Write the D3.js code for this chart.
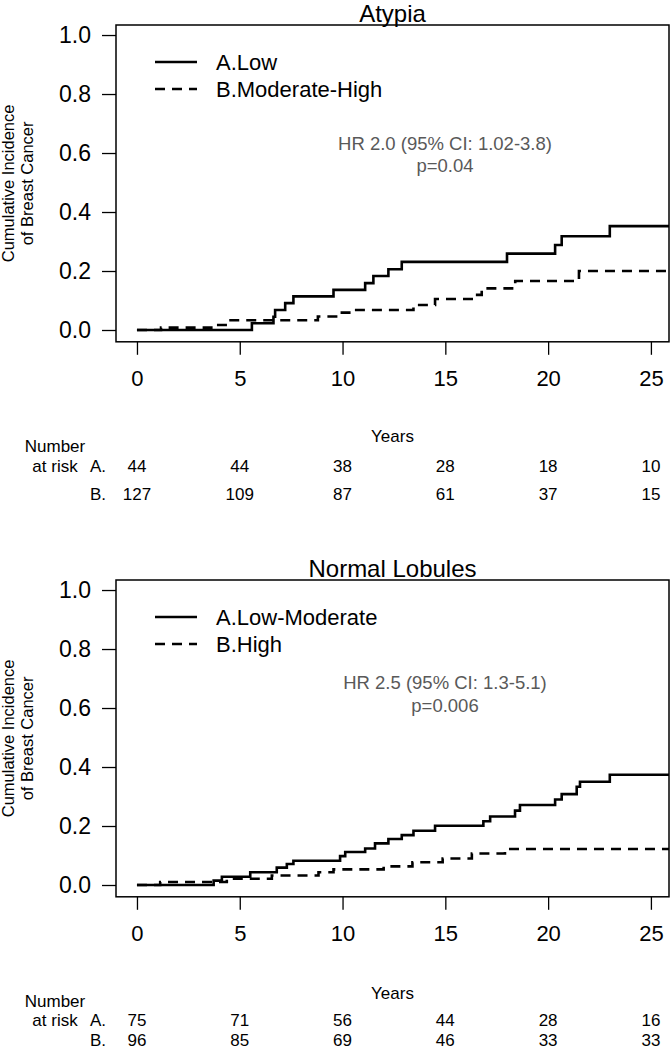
<!DOCTYPE html>
<html><head><meta charset="utf-8">
<script src="https://cdn.jsdelivr.net/npm/d3@7"></script>
<style>body{margin:0;background:#fff}svg{display:block}text{font-family:"Liberation Sans",Arial,sans-serif}</style>
</head><body><svg id="c" width="672" height="1050"></svg>
<script>
const xTicks=[0,5,10,15,20,25];
const yTicks=[0,0.2,0.4,0.6,0.8,1.0];
const titles=["Atypia","Normal Lobules"];
const legendA=["A.Low","A.Low-Moderate"];
const legendB=["B.Moderate-High","B.High"];
const hrText=["HR 2.0 (95% CI: 1.02-3.8)","HR 2.5 (95% CI: 1.3-5.1)"];
const pText=["p=0.04","p=0.006"];
// Atypia panel
const atypiaA_t=[0,5.59,6.64,6.72,7.21,7.61,9.56,11.1,11.5,12.23,12.88,18.0,20.34,20.66,23.0];
const atypiaA_v=[0,0.023,0.045,0.068,0.091,0.114,0.136,0.159,0.183,0.206,0.231,0.259,0.288,0.318,0.352];
const atypiaB_t=[0,1.17,3.73,4.45,8.8,9.8,10.6,13.45,14.5,16.35,16.77,18.4,21.5];
const atypiaB_v=[0,0.008,0.017,0.033,0.046,0.059,0.068,0.085,0.105,0.119,0.141,0.166,0.200];
const atypiaRiskA=[44,44,38,28,18,10];
const atypiaRiskB=[127,109,87,61,37,15];
// Normal Lobules panel
const lobA_t=[0,3.73,4.13,5.51,6.8,7.29,7.61,9.88,10.13,11.1,11.58,12.23,12.88,13.45,14.5,16.85,17.18,18.39,18.63,20.34,20.66,21.39,21.55,23.0];
const lobA_v=[0,0.015,0.028,0.043,0.059,0.071,0.082,0.098,0.112,0.124,0.141,0.156,0.169,0.184,0.201,0.216,0.232,0.252,0.271,0.29,0.308,0.333,0.35,0.374];
const lobB_t=[0,1.13,4.37,6.56,8.83,9.56,12.0,13.4,14.87,16.29,17.9];
const lobB_v=[0,0.010,0.021,0.032,0.043,0.053,0.063,0.077,0.090,0.107,0.122];
const lobRiskA=[75,71,56,44,28,16];
const lobRiskB=[96,85,69,46,33,33];

const panels=[
 {dy:0, A:[atypiaA_t,atypiaA_v], B:[atypiaB_t,atypiaB_v], rA:atypiaRiskA, rB:atypiaRiskB,
  legY:[62,89], hrY:[150,172], tab:{years:442,number:452,a:472,b:500}},
 {dy:555, A:[lobA_t,lobA_v], B:[lobB_t,lobB_v], rA:lobRiskA, rB:lobRiskB,
  legY:[617,644], hrY:[689,712], tab:{years:999,number:1007,a:1026,b:1046}}
];
const svg=d3.select("#c");
const x=d3.scaleLinear().domain([-1.02,25.88]).range([116,669]);
panels.forEach((p,i)=>{
  const y=d3.scaleLinear().domain([-0.04,1.034]).range([341.8+p.dy,25+p.dy]);
  const g=svg.append("g");
  // box
  g.append("rect").attr("x",x.range()[0]).attr("y",y.range()[1]).attr("width",x.range()[1]-x.range()[0])
    .attr("height",y.range()[0]-y.range()[1]).attr("fill","none").attr("stroke","#000").attr("stroke-width",1.5);
  // axes
  const ya=g.append("g").attr("transform",`translate(${x.range()[0]},0)`)
    .call(d3.axisLeft(y).tickValues(yTicks).tickFormat(d3.format(".1f")).tickSize(14).tickPadding(11));
  ya.select(".domain").remove();
  ya.selectAll("line").attr("stroke-width",1.3);
  ya.selectAll("text").attr("font-size",23).attr("font-family","Liberation Sans, Arial, sans-serif").attr("fill","#000");
  const xa=g.append("g").attr("transform",`translate(0,${y.range()[0]})`)
    .call(d3.axisBottom(x).tickValues(xTicks).tickSize(13).tickPadding(16));
  xa.select(".domain").remove();
  xa.selectAll("line").attr("stroke-width",1.3);
  xa.selectAll("text").attr("font-size",22).attr("font-family","Liberation Sans, Arial, sans-serif").attr("fill","#000");
  // title
  g.append("text").attr("x",(x.range()[0]+x.range()[1])/2).attr("y",21.5+p.dy).attr("text-anchor","middle")
    .attr("font-size",24).text(titles[i]);
  // y label
  const cy=(y.range()[0]+y.range()[1])/2;
  g.append("text").attr("transform",`translate(14,${cy}) rotate(-90)`).attr("text-anchor","middle")
    .attr("font-size",16.5).text("Cumulative Incidence");
  g.append("text").attr("transform",`translate(33,${cy}) rotate(-90)`).attr("text-anchor","middle")
    .attr("font-size",16.5).text("of Breast Cancer");
  // curves
  const line=d3.line().x(d=>x(d[0])).y(d=>y(d[1])).curve(d3.curveStepAfter);
  [[p.A,null],[p.B,"10,7"]].forEach(([s,dash])=>{
    const pts=s[0].map((t,k)=>[t,s[1][k]]);
    pts.push([x.domain()[1],s[1][s[1].length-1]]);
    const path=g.append("path").datum(pts).attr("d",line).attr("fill","none").attr("stroke","#000").attr("stroke-width",2.6);
    if(dash) path.attr("stroke-dasharray",dash);
  });
  // legend
  [[legendA[i],null],[legendB[i],"10,7"]].forEach(([lab,dash],k)=>{
    const ly=p.legY[k];
    const l=g.append("line").attr("x1",155).attr("x2",197).attr("y1",ly).attr("y2",ly).attr("stroke","#000").attr("stroke-width",2.6);
    if(dash) l.attr("stroke-dasharray",dash);
    g.append("text").attr("x",216).attr("y",ly+8).attr("font-size",22).text(lab);
  });
  // HR text
  g.append("text").attr("x",445).attr("y",p.hrY[0]).attr("text-anchor","middle").attr("font-size",18.5).attr("fill","#595959").text(hrText[i]);
  g.append("text").attr("x",445).attr("y",p.hrY[1]).attr("text-anchor","middle").attr("font-size",18.5).attr("fill","#595959").text(pText[i]);
  // risk table
  const fs=17;
  g.append("text").attr("x",(x.range()[0]+x.range()[1])/2).attr("y",p.tab.years).attr("text-anchor","middle").attr("font-size",fs).text("Years");
  g.append("text").attr("x",55).attr("y",p.tab.number).attr("text-anchor","middle").attr("font-size",fs).text("Number");
  g.append("text").attr("x",55).attr("y",p.tab.a).attr("text-anchor","middle").attr("font-size",fs).text("at risk");
  g.append("text").attr("x",90).attr("y",p.tab.a).attr("font-size",fs).text("A.");
  g.append("text").attr("x",90).attr("y",p.tab.b).attr("font-size",fs).text("B.");
  g.selectAll(null).data(p.rA).join("text").attr("x",(d,k)=>x(xTicks[k])).attr("y",p.tab.a).attr("text-anchor","middle").attr("font-size",fs).text(d=>d);
  g.selectAll(null).data(p.rB).join("text").attr("x",(d,k)=>x(xTicks[k])).attr("y",p.tab.b).attr("text-anchor","middle").attr("font-size",fs).text(d=>d);
});
</script></body></html>
